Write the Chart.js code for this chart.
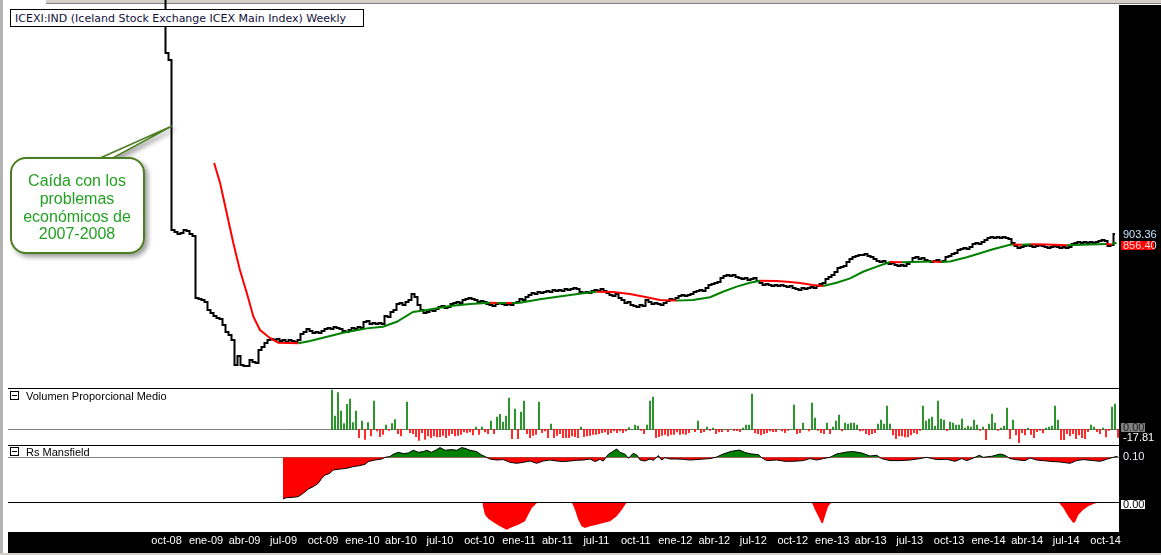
<!DOCTYPE html>
<html lang="es">
<head>
<meta charset="utf-8">
<title>ICEXI:IND semanal</title>
<script src="https://cdn.jsdelivr.net/npm/chart.js"></script>
<style>
  html, body { margin: 0; padding: 0; background: #fff; }
  body { width: 1161px; height: 555px; position: relative; overflow: hidden;
         font-family: "Liberation Sans Narrow", "Liberation Sans", sans-serif; }
  canvas { position: absolute; left: 8px; }
  .banda { position: absolute; background: #000; }
  .linea { position: absolute; left: 8px; width: 1111px; height: 1px; background: #000; }
  .caja { position: absolute; left: 10px; width: 7px; height: 7px; border: 1px solid #000; background: #fff; }
  .caja::after { content: ""; position: absolute; left: 1px; top: 3px; width: 5px; height: 1px; background: #000; }
  .cabecera { position: absolute; left: 26px; font-size: 11px; line-height: 12px; color: #000; white-space: nowrap; }
  #titulo { position: absolute; left: 10px; top: 9px; width: 354px; height: 18px; border: 1px solid #000;
            background: #fff; font: 11px "DejaVu Sans", sans-serif; line-height: 17px; color: #10103a;
            padding-left: 4px; box-sizing: border-box; white-space: nowrap; }
</style>
</head>
<body>
<!-- marco de la ventana -->
<div style="position:absolute;left:0;top:0;width:3px;height:555px;background:#b4b4b4"></div>
<div style="position:absolute;left:46px;top:0;width:1115px;height:3px;background:#d4d0c8;border-bottom:1px solid #808080"></div>
<div style="position:absolute;left:0;top:553px;width:1161px;height:2px;background:#d4d0c8"></div>
<div class="banda" style="left:1119px;top:5px;width:42px;height:548px"></div>
<div class="banda" style="left:8px;top:532px;width:1111px;height:21px"></div>

<canvas id="principal" width="1153" height="388" style="top:0"></canvas>
<canvas id="volumen" width="1153" height="58" style="top:388px"></canvas>
<canvas id="mansfield" width="1153" height="56" style="top:446px"></canvas>
<canvas id="mansfield2" width="1153" height="55" style="top:498px"></canvas>

<div class="linea" style="top:388px"></div>
<div class="linea" style="top:445px"></div>
<div class="linea" style="top:502px"></div>

<div class="caja" style="top:391px"></div>
<div class="cabecera" style="top:390px">Volumen Proporcional Medio</div>
<div class="caja" style="top:447px"></div>
<div class="cabecera" style="top:446px">Rs Mansfield</div>

<div id="titulo">ICEXI:IND (Iceland Stock Exchange ICEX Main Index) Weekly</div>

<svg width="1161" height="555" style="position:absolute;left:0;top:0;pointer-events:none">
  <defs>
    <filter id="sombra" x="-20%" y="-20%" width="150%" height="150%">
      <feGaussianBlur in="SourceAlpha" stdDeviation="2.5"/>
      <feOffset dx="3" dy="3" result="desp"/>
      <feComponentTransfer><feFuncA type="linear" slope="0.4"/></feComponentTransfer>
      <feMerge><feMergeNode/><feMergeNode in="SourceGraphic"/></feMerge>
    </filter>
  </defs>
  <g filter="url(#sombra)">
    <polygon points="98,159 111,159 172,126" fill="#fff" stroke="#4c7d22" stroke-width="1.5"/>
    <rect x="11" y="158" width="133" height="95" rx="15" ry="15" fill="#fff" stroke="#4c7d22" stroke-width="2"/>
  </g>
  <g font-family="Liberation Sans, Arial, sans-serif" font-size="16" fill="#24a024" text-anchor="middle">
    <text x="77" y="186">Caída con los</text>
    <text x="77" y="204">problemas</text>
    <text x="77" y="222">económicos de</text>
    <text x="77" y="239">2007-2008</text>
  </g>
</svg>

<script>
// eje de tiempo: semanas desde el 25-sep-2008
const tickMonths = ['2008-10', '2009-01', '2009-04', '2009-07', '2009-10', '2010-01', '2010-04', '2010-07',
  '2010-10', '2011-01', '2011-04', '2011-07', '2011-10', '2012-01', '2012-04', '2012-07', '2012-10',
  '2013-01', '2013-04', '2013-07', '2013-10', '2014-01', '2014-04', '2014-07', '2014-10'];
const tickLabels = ['oct-08', 'ene-09', 'abr-09', 'jul-09', 'oct-09', 'ene-10', 'abr-10', 'jul-10',
  'oct-10', 'ene-11', 'abr-11', 'jul-11', 'oct-11', 'ene-12', 'abr-12', 'jul-12', 'oct-12',
  'ene-13', 'abr-13', 'jul-13', 'oct-13', 'ene-14', 'abr-14', 'jul-14', 'oct-14'];

// cierres semanales (semana 0 en adelante)
const precios = [
  2300, 1862, 1825, 924, 914, 903, 908, 924, 919, 903,
  892, 564, 559, 553, 543, 500, 484, 468, 458, 453,
  421, 384, 368, 341, 209, 256, 209, 203, 203, 235,
  225, 219, 288, 304, 325, 341, 347, 341, 347, 336,
  341, 331, 341, 336, 331, 341, 373, 384, 400, 389,
  378, 384, 378, 389, 400, 405, 400, 410, 405, 400,
  389, 384, 394, 405, 400, 410, 405, 437, 442, 426,
  431, 426, 431, 426, 468, 463, 490, 500, 532, 537,
  527, 543, 553, 585, 569, 527, 500, 484, 490, 500,
  495, 506, 516, 521, 511, 516, 532, 537, 543, 537,
  553, 559, 564, 559, 553, 543, 548, 543, 532, 527,
  521, 532, 537, 532, 527, 532, 527, 537, 543, 559,
  553, 569, 580, 590, 585, 596, 590, 596, 601, 596,
  606, 601, 606, 601, 612, 606, 612, 617, 612, 596,
  590, 596, 590, 601, 606, 601, 612, 601, 590, 580,
  574, 585, 564, 553, 537, 543, 527, 521, 516, 527,
  521, 553, 543, 532, 537, 532, 527, 537, 548, 559,
  553, 564, 574, 580, 574, 580, 585, 596, 601, 606,
  601, 617, 633, 638, 643, 649, 670, 680, 686, 680,
  686, 675, 670, 665, 670, 659, 665, 670, 654, 643,
  633, 638, 633, 627, 633, 627, 633, 627, 622, 627,
  617, 612, 606, 617, 612, 617, 622, 617, 627, 638,
  643, 665, 675, 686, 702, 723, 728, 733, 755, 771,
  781, 786, 792, 792, 797, 786, 781, 771, 760, 755,
  760, 749, 744, 749, 739, 733, 739, 733, 744, 755,
  776, 781, 771, 776, 765, 760, 755, 760, 765, 755,
  760, 781, 786, 797, 802, 818, 824, 829, 824, 834,
  850, 855, 850, 861, 871, 882, 887, 882, 887, 882,
  887, 882, 877, 855, 839, 829, 834, 839, 845, 839,
  834, 839, 845, 839, 834, 829, 834, 839, 834, 829,
  834, 829, 834, 850, 855, 861, 855, 861, 855, 861,
  855, 861, 866, 871, 866, 839, 845, 903.36
];

// media movil (semana, valor)
const mediaSemanas = [16.7, 18.7, 20.9, 23.1, 25.3, 27.6, 29.8, 32, 35.3, 38.1, 44.8, 48.7, 53, 59.7, 67.6,
  73, 77.6, 83, 87.6, 95.3, 102, 108.7, 111, 114, 116, 118.7, 125.3, 133, 139.7, 144.2, 149.7, 155.3,
  160.9, 165.3, 170.9, 176.3, 182, 186.3, 190.9, 195.3, 198.7, 204.2, 208.7, 212, 216.3, 219.7, 224.2,
  228.7, 233, 237.6, 242, 246, 249, 256, 259, 262, 267.6, 272, 276.3, 282, 283, 286, 289, 294, 301,
  306, 314, 316, 317.5];
const mediaValores = [1279, 1173, 1014, 855, 712, 590, 465, 394, 352, 327, 324, 336, 353, 380, 403,
  412, 438, 490, 500, 521, 532, 539, 537, 538, 537, 539, 557, 574, 589, 597, 596, 585,
  568, 553, 550, 553, 568, 597, 624, 645, 655, 654, 649, 643, 633, 627, 645,
  668, 703, 730, 755, 753, 755, 757, 755, 757, 780, 801, 822, 846, 848, 846, 849, 847, 843,
  846, 850, 848, 856.4];

// volumen proporcional medio, desde la semana 56
const volumenInicio = 56;
const volumen = [
  86.5, 29.3, 80.6, 40.3, 12.5, 55, 66.7, 14.7, 40.3, -18.3,
  18.3, -22, 14.7, -14.7, 62.3, -3.7, -16.1, -11, 9.5, -2.2,
  12.5, 21.3, -9.5, -14.7, 0, 60.1, -7.3, -9.5, -16.1, -24.2,
  -7.3, -22, -14.7, -18.3, -14.7, -16.9, -16.1, -13.2, -18.3, -13.2,
  -9.5, -14.7, -13.2, -11, -5.9, -7.3, -5.9, -12.5, 5.1, -11,
  5.1, -5.9, -9.5, 18.3, -9.5, 27.1, 33, 16.1, 29.3, 68.9,
  -20.5, 44.7, -20.5, 38.1, 62.3, -9.5, -18.3, -13.2, -11, 60.1,
  -7.3, -3.7, -18.3, 11.7, -18.3, -13.2, -9.5, -18.3, -18.3, -18.3,
  -14.7, -16.1, -18.3, 5.1, -16.1, -14.7, -13.2, -11, -11, -9.5,
  -7.3, -5.9, -11, -7.3, -3.7, -7.3, -3.7, -7.3, -3.7, 3.7,
  0, 9.5, 7.3, -2.2, -9.5, 9.5, 62.3, 71.1, -18.3, -16.1,
  -13.2, -11, -14.7, -11, -11, -5.9, -11, -9.5, -11, -7.3,
  0, -5.1, 18.3, -7.3, -5.1, 5.1, -2.2, 2.9, -9.5, -5.9,
  -5.1, 0, -5.1, 0, -2.9, -2.9, -5.1, 2.9, 9.5, 9.5,
  77.7, -8.1, -9.5, -12.5, -9.5, -7.3, -3.7, -5.1, -5.1, 0,
  -3.7, -7.3, -2.2, 0, 53.5, -9.5, -7.3, 13.9, 0, -3.7,
  57.9, 24.9, -2.2, -7.3, -9.5, 13.9, -9.5, 5.1, 18.3, 31.5,
  -3.7, 13.9, 11.7, 13.9, 13.9, 9.5, -3.7, -2.2, -9.5, -12.5,
  -9.5, -7.3, 11.7, 20.5, 11.7, 51.3, 11.7, -12.5, -20.5, -14.7,
  -14.7, -16.9, -16.9, -12.5, -7.3, -9.5, -2.2, 51.3, 18.3, 22.7,
  27.1, 7.3, 62.3, 22.7, 20.5, -2.9, 16.1, 13.9, 9.5, 9.5,
  22.7, 2.9, 7.3, 5.1, 20.5, 9.5, -2.2, 5.1, -22.7, 11.7,
  33.7, 13.9, -2.2, 2.9, 7.3, 46.9, -20.5, 20.5, -12.5, -29.3,
  -7.3, -12.5, 2.9, -11, -18.3, -5.1, -2.2, -8.1, 2.9, 5.1,
  7.3, 51.3, 20.5, -22.7, -22.7, -9.5, -14.7, -9.5, -20.5, -12.5,
  -18.3, -20.5, -5.1, 9.5, 5.1, -5.1, -9.5, 2.9, -16.9, -2.2,
  49.1, 55.7, -17.81
];

// Rs Mansfield (semana, valor)
const rsSemanas = [39.6, 40.9, 43.1, 44.8, 46.4, 48.1, 49.8, 51.4, 52.6, 53.7, 55.3, 56.4, 58.7, 60.9,
  63.1, 65.3, 67, 68.1, 70.3, 72.6, 73.7, 75.3, 76.4, 78.1, 79.8, 81.4, 83.1, 84.8, 86.4, 87.6, 89.2,
  90.9, 92, 93.7, 95.9, 97.6, 99.2, 100.3, 102, 104.2, 105.9, 107, 108.7, 110.9, 113.1, 115.3, 117.6,
  119.8, 122, 124.2, 126.4, 128.7, 130.9, 133.1, 135.3, 137.6, 139.8, 142, 143.7, 145.3, 146.4, 148.1,
  149.2, 150.9, 152, 153.7, 154.8, 156.4, 157.6, 158.7, 160.3, 162, 163.1, 164.8, 165.9, 167, 168.7,
  170.9, 173.1, 175.3, 178.7, 182, 184.2, 186.4, 189.2, 191.8, 193.7, 195.9, 198.1, 199.2, 200.9,
  204.2, 207, 209.8, 213.1, 215.3, 217.6, 219.8, 222, 224.2, 227.6, 229.8, 232.6, 235.3, 237.6, 239.2,
  242, 245.3, 248.7, 252, 254.2, 257.6, 260.9, 263.7, 265.9, 267.6, 269.8, 271.8, 273.1, 275.9, 278.7,
  280.3, 282, 284.8, 287, 288.7, 290.9, 295.3, 298.7, 302, 304.2, 306.4, 309.8, 312, 314.2, 316.4, 317.9];
const rsValores = [-4.17, -4.03, -4.0, -3.93, -3.6, -3.17, -2.93, -2.6, -2.1, -1.77, -1.6, -1.27, -1.17, -1.1,
  -0.93, -0.83, -0.7, -0.43, -0.27, -0.17, 0, 0.07, 0.3, 0.5, 0.37, 0.43, 0.7, 0.5, 0.57, 0.7, 0.5,
  0.77, 0.97, 0.7, 0.77, 0.7, 0.97, 0.9, 0.7, 0.57, 0.23, 0.07, -0.17, -0.27, -0.23, -0.5, -0.6,
  -0.5, -0.37, -0.6, -0.37, -0.27, -0.37, -0.43, -0.37, -0.3, -0.27, -0.17, -0.43, -0.2, -0.37, 0.3,
  0.5, 0.83, 0.5, 0.3, -0.1, 0.4, 0.23, -0.27, -0.37, -0.17, -0.3, 0.17, -0.27, -0.03, -0.17,
  -0.17, -0.2, -0.27, -0.2, -0.13, 0.03, 0.33, 0.6, 0.73, 0.47, 0.33, 0.27, -0.03, -0.33,
  -0.27, -0.4, -0.4, -0.33, -0.13, -0.27, -0.13, 0, 0.33, 0.53, 0.57, 0.43, 0.13, 0.2, -0.13,
  -0.33, -0.33, -0.27, -0.13, 0, -0.23, -0.2, -0.4, -0.13, -0.33, -0.07, 0.2, 0, 0.1, 0.33,
  0.2, -0.13, -0.27, -0.33, -0.07, -0.27, -0.4, -0.47, -0.6, -0.33, -0.23, -0.33, -0.4, -0.2, 0, 0.1];

// segundo panel del Rs (solo las caidas)
const rs2Semanas = [106.1, 106.2, 107, 108.1, 109.8, 112, 114.2, 115.9, 118.1, 120.3, 121.4, 122.6, 124.2, 125.3,
  135.9, 137, 138.1, 139.2, 140.3, 142, 144.2, 146.4, 148.7, 150.9, 152.6, 153.7, 154.4,
  215.9, 217, 218.1, 219.2, 219.6, 220.3, 221.4, 222.6,
  298.1, 299.8, 301.4, 303.1, 303.7, 304.8, 306.4, 308.1, 309.8, 311.1, 311.4];
const rs2Valores = [0, -0.27, -1.27, -1.67, -2.03, -2.43, -2.77, -2.53, -2.27, -1.93, -1.27, -0.6, -0.13, 0,
  0, -0.77, -1.77, -2.43, -2.6, -2.43, -2.27, -2.1, -1.93, -1.43, -0.77, -0.27, 0,
  0, -0.77, -1.43, -2.1, -2.13, -1.43, -0.43, 0,
  0, -0.6, -1.43, -2.1, -2.0, -1.27, -0.77, -0.43, -0.2, -0.07, 0];

const VERDE = '#008000';
const ROJO = '#ff0000';

Chart.defaults.font.family = '"Liberation Sans Narrow", "Liberation Sans", sans-serif';
Chart.defaults.font.size = 11;

const inicio = Date.UTC(2008, 8, 25);
const semanaMs = 7 * 24 * 3600 * 1000;
const tickWeeks = tickMonths.map(m => {
  const [anio, mes] = m.split('-').map(Number);
  return (Date.UTC(anio, mes - 1, 1) - inicio) / semanaMs;
});

const puntos = (xs, ys) => xs.map((x, i) => ({ x: x, y: ys[i] }));

// etiquetas de la franja negra de la derecha
const etiquetasLado = {
  id: 'etiquetasLado',
  afterDraw(chart, args, opts) {
    const ctx = chart.ctx;
    const y = chart.scales.y;
    const x0 = chart.chartArea.right;
    ctx.save();
    ctx.font = '11px "Liberation Sans Narrow", "Liberation Sans", sans-serif';
    ctx.textBaseline = 'middle';
    (opts.items || []).forEach(it => {
      const py = Math.round(y.getPixelForValue(it.value) + (it.dy || 0));
      if (it.fondo) {
        ctx.fillStyle = it.fondo;
        ctx.fillRect(x0 + 2, py - 4, it.ancho, 9);
      }
      ctx.fillStyle = it.color;
      ctx.fillText(it.text, x0 + 4, py + 0.5);
    });
    ctx.restore();
  }
};

// linea gris del cero
const lineaCero = {
  id: 'lineaCero',
  beforeDatasetsDraw(chart, args, opts) {
    if (!opts.mostrar) return;
    const ctx = chart.ctx;
    const a = chart.chartArea;
    const py = Math.round(chart.scales.y.getPixelForValue(0)) + 0.5;
    ctx.save();
    ctx.strokeStyle = '#808080';
    ctx.lineWidth = 1;
    ctx.beginPath();
    ctx.moveTo(a.left, py);
    ctx.lineTo(a.right, py);
    ctx.stroke();
    ctx.restore();
  }
};

function ejeX(mostrar) {
  const eje = {
    type: 'linear', min: -52, max: 318.33, offset: false, bounds: 'data', display: mostrar,
    grid: { display: false, drawTicks: false }, border: { display: false },
    afterBuildTicks: e => { e.ticks = tickWeeks.map(v => ({ value: v })); },
    ticks: { color: '#fff', autoSkip: false, maxRotation: 0, padding: 2,
             callback: (v, i) => tickLabels[i] }
  };
  if (mostrar) eje.afterFit = e => { e.height = 21; };
  return eje;
}

function ejeY(min, max) {
  return { display: false, min: min, max: max, bounds: 'data' };
}

function opciones(escalas, items, cero, arriba) {
  return {
    responsive: false, animation: false, events: [],
    layout: { padding: { left: 0, right: 42, top: arriba || 0, bottom: 0 } },
    scales: escalas,
    plugins: { legend: { display: false }, tooltip: { enabled: false },
               etiquetasLado: { items: items }, lineaCero: { mostrar: cero } }
  };
}

const ultimoPrecio = precios[precios.length - 1];
const ultimaMedia = mediaValores[mediaValores.length - 1];

new Chart(document.getElementById('principal'), {
  type: 'line',
  data: {
    datasets: [
      {
        data: puntos(mediaSemanas, mediaValores),
        borderWidth: 2, pointRadius: 0, tension: 0, borderColor: VERDE,
        segment: { borderColor: c => c.p1.parsed.y < c.p0.parsed.y ? ROJO : VERDE }
      },
      {
        data: precios.map((v, i) => ({ x: i, y: v })),
        borderColor: '#000', borderWidth: 2, pointRadius: 0, stepped: 'middle'
      }
    ]
  },
  options: opciones({ x: ejeX(false), y: ejeY(87, 2143) }, [
    { value: ultimoPrecio, text: ultimoPrecio.toFixed(2), color: '#c8e4ff' },
    { value: ultimaMedia, text: ultimaMedia.toFixed(2), color: '#ffd8d8', fondo: ROJO, ancho: 33, dy: 2 }
  ], false),
  plugins: [etiquetasLado, lineaCero]
});

const ultimoVol = volumen[volumen.length - 1];
new Chart(document.getElementById('volumen'), {
  type: 'bar',
  data: {
    datasets: [{
      data: volumen.map((v, i) => ({ x: volumenInicio + i, y: v })),
      barThickness: 1,
      backgroundColor: c => (c.parsed && c.parsed.y < 0) ? ROJO : VERDE
    }]
  },
  options: opciones({ x: ejeX(false), y: ejeY(-36.7, 90.9) }, [
    { value: 0, text: (0).toFixed(2), color: '#202020', fondo: '#808080', ancho: 24, dy: -2 },
    { value: ultimoVol, text: ultimoVol.toFixed(2), color: '#fff' }
  ], true),
  plugins: [etiquetasLado, lineaCero]
});

const ultimoRs = rsValores[rsValores.length - 1];
new Chart(document.getElementById('mansfield'), {
  type: 'line',
  data: {
    datasets: [{
      data: puntos(rsSemanas, rsValores),
      borderColor: '#000', borderWidth: 1, pointRadius: 0, tension: 0,
      fill: { target: 'origin', above: VERDE, below: ROJO }
    }]
  },
  options: opciones({ x: ejeX(false), y: ejeY(-4.47, 1.13) }, [
    { value: ultimoRs, text: ultimoRs.toFixed(2), color: '#e8f2ff' }
  ], true),
  plugins: [etiquetasLado, lineaCero]
});

new Chart(document.getElementById('mansfield2'), {
  type: 'line',
  data: {
    datasets: [{
      data: puntos(rs2Semanas, rs2Valores),
      borderWidth: 0, pointRadius: 0, tension: 0,
      fill: { target: 'origin', above: VERDE, below: ROJO }
    }]
  },
  options: opciones({ x: ejeX(true), y: ejeY(-3.0, 0) }, [
    { value: 0, text: (0).toFixed(2), color: '#000', fondo: '#fff', ancho: 24, dy: 1.5 }
  ], false, 4),
  plugins: [etiquetasLado, lineaCero]
});
</script>
</body>
</html>
